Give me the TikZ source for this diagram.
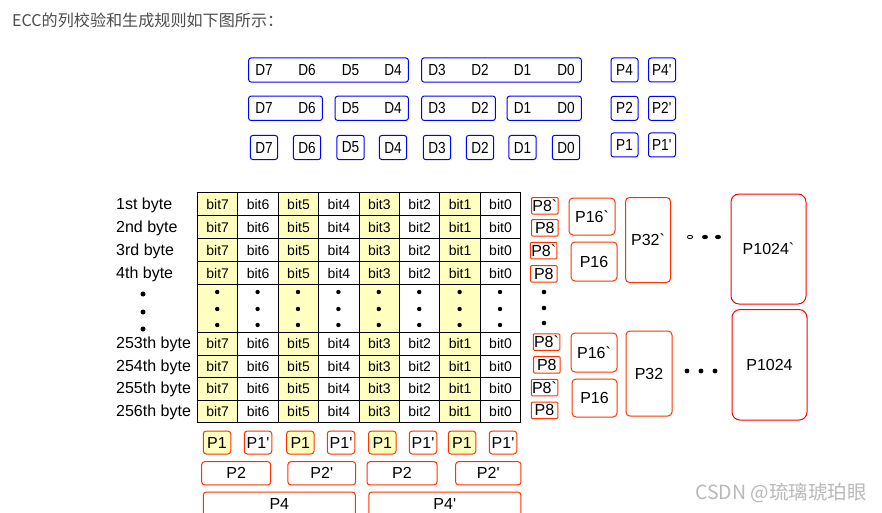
\documentclass[tikz,border=0pt]{standalone}
\usepackage{fontspec}
\setmainfont{Liberation Sans}
\newfontfamily\cjkfont{Noto Sans CJK SC}
\newfontfamily\narrowfont[FakeStretch=0.85]{Liberation Sans}
\usetikzlibrary{fit}
\definecolor{eccblue}{RGB}{0,0,255}
\definecolor{eccred}{RGB}{255,51,0}
\definecolor{eccyellow}{RGB}{255,255,192}
\definecolor{titlegray}{RGB}{77,77,77}
\definecolor{markgray}{RGB}{185,185,185}
\tikzset{
  dlab/.style={inner sep=0pt, font=\narrowfont\fontsize{16}{16}\selectfont},
  dbox/.style={draw=eccblue, line width=1pt, rounded corners=2.5pt, inner xsep=6.5pt, inner ysep=6.3pt},
  ptop/.style={draw=eccblue, line width=1pt, rounded corners=2.5pt, inner sep=0pt,
    minimum width=27pt, minimum height=24pt, font=\narrowfont\fontsize{16}{16}\selectfont},
  pbox/.style={draw=eccred, line width=1pt, rounded corners=3pt, inner sep=0pt,
    font=\fontsize{16}{16}\selectfont},
  cell/.style={draw, line width=1pt, inner sep=0pt, anchor=north west,
    minimum width=40.4pt, minimum height=23pt, font=\fontsize{14}{14}\selectfont},
  bytelab/.style={anchor=base west, inner sep=0pt, font=\fontsize{16}{16}\selectfont},
}
\begin{document}
\begin{tikzpicture}[x=1pt,y=-1pt]
  \useasboundingbox (0,0) rectangle (882,513);
  \fill[white] (0,0) rectangle (882,513);
  \clip (0,0) rectangle (882,513);

  \node[anchor=west, inner sep=0pt, text=titlegray, font=\cjkfont\fontsize{16.1}{17}\selectfont] (title) at (12,20) {ECC的列校验和生成规则如下图所示：};

  \foreach \x [count=\i from 0] in {264,307,350.5,393,437,480,522.5,566}{
    \pgfmathtruncatemacro\d{7-\i}
    \foreach \r/\y in {1/70,2/108.3,3/147.5}
      \node[dlab] (d\r-\d) at (\x,\y) {D\d};
  }
  \foreach \a/\b in {7/4,3/0} \node[dbox, fit=(d1-\a)(d1-\b)] (r1-\a) {};
  \foreach \a/\b in {7/6,5/4,3/2,1/0} \node[dbox, fit=(d2-\a)(d2-\b)] (r2-\a) {};
  \foreach \a in {0,...,7} \node[dbox, inner xsep=4.8pt, fit=(d3-\a)] (r3-\a) {};
  \foreach \r/\y in {4/70,2/108.3,1/145}{
    \node[ptop] (q\r) at (624.5,\y) {P\r};
    \node[ptop] (qq\r) at (662,\y) {P\r\textquotesingle};
  }

  \foreach \c in {0,...,7}{
    \pgfmathtruncatemacro\bit{7-\c}
    \pgfmathsetmacro\cx{197+40.4*\c}
    \pgfmathparse{mod(\c,2)==0 ? "eccyellow" : "white"}\edef\fc{\pgfmathresult}
    \foreach \r in {0,...,3}{
      \node[cell, fill=\fc] (a-\r-\c) at (\cx,192+23*\r) {bit\bit};
      \node[cell, fill=\fc, minimum height=22.5pt] (b-\r-\c) at (\cx,332+22.5*\r) {bit\bit};
    }
    \node[cell, fill=\fc, minimum height=48pt] (m-\c) at (\cx,284) {};
    \foreach \y in {292,309,325} \fill (\cx+20.2,\y) circle (2.2pt);
  }
  \foreach \t/\y [count=\i] in {1st/203.5,2nd/226.5,3rd/249.5,4th/272.5,253th/343.2,254th/365.7,255th/388.2,256th/410.7}
    \node[bytelab] (byte\i) at (116,\y+5.7) {\t\ byte};
  \foreach \y in {294,312,329} \fill (143,\y) circle (2.5pt);

  \foreach \x/\y/\t [count=\i] in {544.8/205.8/\textasciigrave, 544.8/227.8/{}, 543.7/250.5/\textasciigrave, 543.8/273.8/{},
      546.5/342/\textasciigrave, 546.8/364.8/{}, 544.5/387.5/\textasciigrave, 544.5/410.3/{}}
    \node[pbox, rounded corners=1pt, minimum width=26.5pt, minimum height=16.5pt] (p8-\i) at (\x,\y) {P8\t};
  \foreach \y in {292,308,323} \fill (544,\y) circle (2.3pt);

  \node[pbox, rounded corners=4pt, minimum width=46pt, minimum height=37pt] (p16a) at (592,216.5) {P16\textasciigrave};
  \node[pbox, rounded corners=4pt, minimum width=46pt, minimum height=39pt] (p16b) at (594,261.5) {P16};
  \node[pbox, rounded corners=4pt, minimum width=45pt, minimum height=85pt] (p32a) at (648,240) {P32\textasciigrave};
  \node[pbox, draw=red, rounded corners=8pt, minimum width=75pt, minimum height=110pt] (p1024a) at (768.5,249) {P1024\textasciigrave};
  \node[pbox, rounded corners=4pt, minimum width=46pt, minimum height=39pt] (p16c) at (594,352.5) {P16\textasciigrave};
  \node[pbox, rounded corners=4pt, minimum width=45pt, minimum height=38pt] (p16d) at (594.5,398) {P16};
  \node[pbox, rounded corners=4pt, minimum width=46pt, minimum height=85pt] (p32b) at (649,373.5) {P32};
  \node[pbox, draw=red, rounded corners=8pt, minimum width=75pt, minimum height=110.5pt] (p1024b) at (769.5,364.8) {P1024};

  \draw[line width=0.8pt] (690,237) circle[x radius=2.6pt, y radius=1.7pt];
  \foreach \x in {705,718} \fill (\x,237) circle[x radius=3pt, y radius=2.2pt];
  \foreach \x in {687,701,715} \fill (\x,371) circle (2.4pt);

  \foreach \x/\t/\fc [count=\i] in {217/P1/eccyellow, 258/P1\textquotesingle/white, 300.3/P1/eccyellow, 341/P1\textquotesingle/white,
      382.3/P1/eccyellow, 423/P1\textquotesingle/white, 462/P1/eccyellow, 503/P1\textquotesingle/white}
    \node[pbox, fill=\fc, minimum width=27.5pt, minimum height=23pt] (p1-\i) at (\x,442.5) {\t};
  \foreach \x/\w/\t [count=\i] in {236.2/69/P2, 321.8/67.7/P2\textquotesingle, 402/70/P2, 488.3/65.3/P2\textquotesingle}
    \node[pbox, minimum width=\w pt, minimum height=23.3pt] (p2-\i) at (\x,473.3) {\t};
  \foreach \x/\t [count=\i] in {279.3/P4, 444.8/P4\textquotesingle}{
    \node[pbox, minimum width=152pt, minimum height=28pt] (p4-\i) at (\x,506) {};
    \node[inner sep=0pt, font=\fontsize{16}{16}\selectfont] (p4lab-\i) at (\x,504) {\t};
  }

  \node[anchor=west, inner sep=0pt, text=markgray, font=\cjkfont\fontsize{19.5}{20}\selectfont] (mark) at (695,493) {CSDN @琉璃琥珀眼};
\end{tikzpicture}
\end{document}
